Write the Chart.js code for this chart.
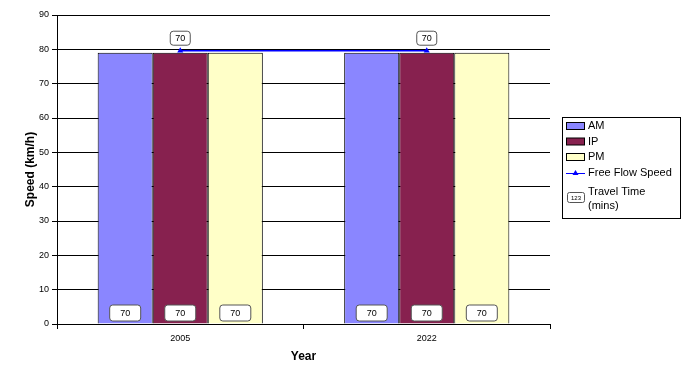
<!DOCTYPE html>
<html>
<head>
<meta charset="utf-8">
<script src="https://cdn.jsdelivr.net/npm/chart.js@4"></script>
<style>
  html, body { margin: 0; padding: 0; background: #fff; }
  #wrap { width: 688px; height: 374px; }
</style>
</head>
<body>
<div id="wrap"><canvas id="speed_chart" width="688" height="374"></canvas></div>
<script>
const years = ['2005', '2022'];
const amSpeed = [79, 79];
const ipSpeed = [79, 79];
const pmSpeed = [79, 79];
const freeFlowSpeed = [79.6, 79.6];
const amTime = [70, 70];
const ipTime = [70, 70];
const pmTime = [70, 70];
const freeFlowTime = [70, 70];
const yTicks = [0, 10, 20, 30, 40, 50, 60, 70, 80, 90];

const FONT = 'Liberation Sans, Arial, sans-serif';

function labelBox(ctx, cx, cy, text, w, h) {
  ctx.save();
  ctx.beginPath();
  ctx.roundRect(cx - w / 2, cy - h / 2, w, h, 3);
  ctx.fillStyle = '#fff';
  ctx.fill();
  ctx.strokeStyle = '#555';
  ctx.lineWidth = 1;
  ctx.stroke();
  ctx.fillStyle = '#000';
  ctx.font = '9px ' + FONT;
  ctx.textAlign = 'center';
  ctx.textBaseline = 'middle';
  ctx.fillText(text, cx, cy + 0.5);
  ctx.restore();
}

// travel time boxes + hand-made legend
const extras = {
  id: 'extras',
  afterDatasetsDraw(chart) {
    const ctx = chart.ctx;
    const yScale = chart.scales.y;
    const times = [amTime, ipTime, pmTime];
    times.forEach((arr, di) => {
      chart.getDatasetMeta(di).data.forEach((bar, i) => {
        labelBox(ctx, bar.x, yScale.getPixelForValue(0) - 11, String(arr[i]), 31, 16);
      });
    });
    chart.getDatasetMeta(3).data.forEach((pt, i) => {
      labelBox(ctx, pt.x, pt.y - 12.5, String(freeFlowTime[i]), 20, 14);
    });
  },
  afterDraw(chart) {
    const ctx = chart.ctx;
    ctx.save();
    ctx.strokeStyle = '#000';
    ctx.lineWidth = 1;
    ctx.strokeRect(562.5, 117.5, 118, 101);
    ctx.font = '11px ' + FONT;
    ctx.textBaseline = 'middle';
    ctx.textAlign = 'left';
    const bars = chart.data.datasets.slice(0, 3);
    bars.forEach((ds, i) => {
      const y = 126 + i * 15.5;
      ctx.fillStyle = ds.backgroundColor;
      ctx.fillRect(566.5, y - 3.5, 18, 7);
      ctx.strokeRect(566.5, y - 3.5, 18, 7);
      ctx.fillStyle = '#000';
      ctx.fillText(ds.label, 588, y);
    });
    // free flow entry
    const fy = 173;
    ctx.strokeStyle = '#0000ff';
    ctx.beginPath();
    ctx.moveTo(566, fy + 0.5);
    ctx.lineTo(585, fy + 0.5);
    ctx.stroke();
    ctx.fillStyle = '#0000ff';
    ctx.beginPath();
    ctx.moveTo(575.5, fy - 3);
    ctx.lineTo(578.5, fy + 2);
    ctx.lineTo(572.5, fy + 2);
    ctx.closePath();
    ctx.fill();
    ctx.fillStyle = '#000';
    ctx.fillText(chart.data.datasets[3].label, 588, fy);
    // travel time entry
    ctx.beginPath();
    ctx.roundRect(567.5, 192.5, 17, 10, 2);
    ctx.strokeStyle = '#555';
    ctx.stroke();
    ctx.font = '6px ' + FONT;
    ctx.textAlign = 'center';
    ctx.fillText('123', 576, 198);
    ctx.font = '11px ' + FONT;
    ctx.textAlign = 'left';
    ctx.fillText('Travel Time', 588, 192);
    ctx.fillText('(mins)', 588, 206);
    ctx.restore();
  }
};

new Chart(document.getElementById('speed_chart'), {
  type: 'bar',
  data: {
    labels: years,
    datasets: [
      { label: 'AM', data: amSpeed, backgroundColor: '#8a86ff', borderColor: '#000', borderWidth: 1, order: 2 },
      { label: 'IP', data: ipSpeed, backgroundColor: '#87214f', borderColor: '#000', borderWidth: 1, order: 2 },
      { label: 'PM', data: pmSpeed, backgroundColor: '#ffffc8', borderColor: '#000', borderWidth: 1, order: 2 },
      {
        type: 'line', label: 'Free Flow Speed', data: freeFlowSpeed,
        borderColor: '#0000ff', backgroundColor: '#0000ff', borderWidth: 1.5,
        pointStyle: 'triangle', pointRadius: 3.5, pointBorderWidth: 0, order: 1
      }
    ]
  },
  options: {
    responsive: false,
    animation: false,
    layout: { padding: { left: 0, right: 138, top: 15, bottom: 0 } },
    plugins: { legend: { display: false }, tooltip: { enabled: false } },
    datasets: { bar: { categoryPercentage: 0.67, barPercentage: 1 } },
    scales: {
      x: {
        offset: true,
        grid: { offset: true, drawOnChartArea: false, drawTicks: true, tickLength: 5, color: '#000' },
        border: { color: '#000', width: 1 },
        ticks: { color: '#000', font: { family: FONT, size: 9 }, padding: 4 },
        title: { display: true, text: 'Year', color: '#000', font: { family: FONT, size: 12, weight: 'bold' }, padding: { top: 4, bottom: 10 } },
        afterFit(s) { s.height = 50; }
      },
      y: {
        min: 0, max: 90,
        afterBuildTicks(s) { s.ticks = yTicks.map(v => ({ value: v })); },
        grid: { color: '#000', tickLength: 5, lineWidth: 1 },
        border: { color: '#000', width: 1 },
        ticks: { color: '#000', font: { family: FONT, size: 9 }, padding: 3 },
        title: { display: true, text: 'Speed (km/h)', color: '#000', font: { family: FONT, size: 12, weight: 'bold' }, padding: { top: 23, bottom: 4 } },
        afterFit(s) { s.width = 57; }
      }
    }
  },
  plugins: [extras]
});
</script>
</body>
</html>
